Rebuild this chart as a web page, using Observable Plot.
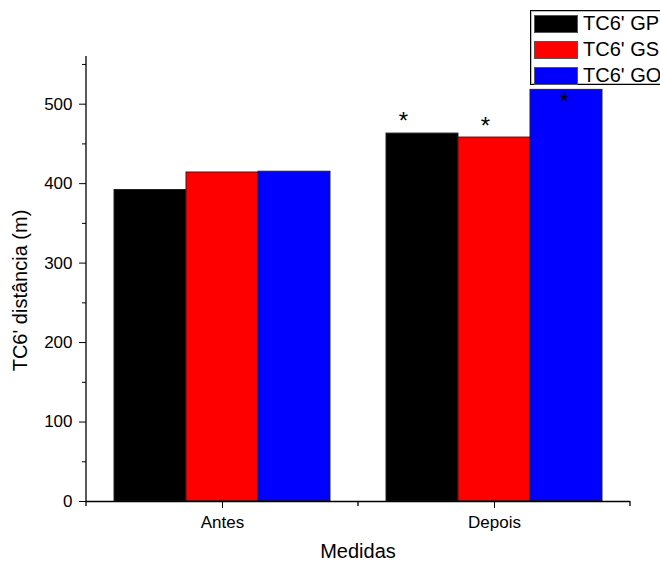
<!DOCTYPE html>
<html>
<head>
<meta charset="utf-8">
<script src="https://cdn.jsdelivr.net/npm/d3@7"></script>
<script src="https://cdn.jsdelivr.net/npm/@observablehq/plot@0.6"></script>
<style>
  html, body { margin: 0; padding: 0; background: #fff; overflow: hidden; }
  #wrap { position: relative; width: 660px; height: 563px; }
  #legend { position: absolute; left: 530px; top: 10px; width: 150px; height: 73px;
    border: 1px solid #000; box-shadow: inset 0 0 0 1px #bbb; background: #fff;
    font-family: "Liberation Sans", Arial, sans-serif; font-size: 20px; color: #000; }
  .item { position: absolute; left: 3px; height: 19px; display: flex; align-items: center; white-space: nowrap; }
  .sw { width: 44px; height: 18px; border: 1px solid #555; box-sizing: border-box; margin-right: 5px; }
</style>
</head>
<body>
<div id="wrap"></div>
<script>
const medidas = ["Antes", "Depois"];
const grupos = ["TC6' GP", "TC6' GS", "TC6' GO"];
const cores = ["#000000", "#ff0000", "#0000ff"];
const antes = [392, 414, 415];
const depois = [463, 458, 518];
const yTicks = [0, 100, 200, 300, 400, 500];
const yMinor = [50, 150, 250, 350, 450, 550];
const asteriscos = [
  {medida: "Depois", grupo: "TC6' GP"},
  {medida: "Depois", grupo: "TC6' GS"},
  {medida: "Depois", grupo: "TC6' GO"}
];
const astOffsets = [[-19, -12], [-9, -11], [-2, 12]];

const data = [];
medidas.forEach((m, i) => {
  const vals = i === 0 ? antes : depois;
  grupos.forEach((g, j) => data.push({medida: m, grupo: g, valor: vals[j]}));
});
const astData = asteriscos.map(a => ({...a, valor: data.find(d => d.medida === a.medida && d.grupo === a.grupo).valor}));

const font = "'Liberation Sans', Arial, sans-serif";
const plot = Plot.plot({
  width: 660,
  height: 563,
  marginLeft: 85,
  marginRight: 30,
  marginTop: 56,
  marginBottom: 62,
  style: {fontFamily: font, fontSize: "17px", color: "#000", background: "#fff"},
  fx: {domain: medidas, padding: 0, axis: null},
  x: {domain: grupos, paddingInner: 0, paddingOuter: 0.372, axis: null},
  y: {domain: [0, 560], axis: null},
  color: {domain: grupos, range: cores},
  marks: [
    Plot.barY(data, {fx: "medida", x: "grupo", y: "valor", fill: "grupo", stroke: "#222", strokeWidth: 1}),
    ...astData.map((a, i) => Plot.text([a], {fx: "medida", x: "grupo", y: "valor", text: () => "*",
      dx: astOffsets[i][0], dy: astOffsets[i][1], fontSize: 24, fill: "#000"})),
    Plot.ruleY([0], {stroke: "#000", strokeWidth: 1.3}),
    Plot.axisFx({anchor: "bottom", tickSize: 7, tickPadding: 7, fontSize: 17, label: null}),
    Plot.axisY({ticks: yTicks, tickSize: 7, tickPadding: 7, fontSize: 17, label: null}),
    Plot.axisY({ticks: yMinor, tickSize: 4, text: null, label: null})
  ]
});

const wrap = document.getElementById("wrap");
wrap.appendChild(plot);

// axis lines, minor x ticks and axis titles using the library's scales
const svg = d3.select(plot);
const fx = plot.scale("fx");
const y = plot.scale("y");
const left = fx.apply(medidas[0]);
const right = fx.apply(medidas[medidas.length - 1]) + fx.step;
const y0 = y.apply(0), yTop = y.apply(560);
svg.append("line").attr("x1", left).attr("x2", left).attr("y1", y0).attr("y2", yTop)
  .attr("stroke", "#000").attr("stroke-width", 1.3);
const edges = medidas.map(m => fx.apply(m)).concat([right]);
edges.forEach(e => svg.append("line").attr("x1", e).attr("x2", e).attr("y1", y0).attr("y2", y0 + 5)
  .attr("stroke", "#000").attr("stroke-width", 1.3));
svg.append("text").attr("transform", `translate(22,${(y0 + yTop) / 2 + 12}) rotate(-90)`)
  .attr("text-anchor", "middle").attr("dominant-baseline", "middle")
  .attr("font-family", font).attr("font-size", 20).attr("fill", "#000").text("TC6' distância (m)");
svg.append("text").attr("x", (left + right) / 2).attr("y", 553)
  .attr("text-anchor", "middle").attr("dominant-baseline", "middle")
  .attr("font-family", font).attr("font-size", 20).attr("fill", "#000").text("Medidas");

// legend
const legend = document.createElement("div");
legend.id = "legend";
grupos.forEach((g, i) => {
  const it = document.createElement("div");
  it.className = "item";
  it.style.top = (3 + i * 26) + "px";
  const sw = document.createElement("div");
  sw.className = "sw";
  sw.style.background = cores[i];
  it.appendChild(sw);
  const t = document.createElement("span");
  t.textContent = g;
  it.appendChild(t);
  legend.appendChild(it);
});
wrap.appendChild(legend);
</script>
</body>
</html>
